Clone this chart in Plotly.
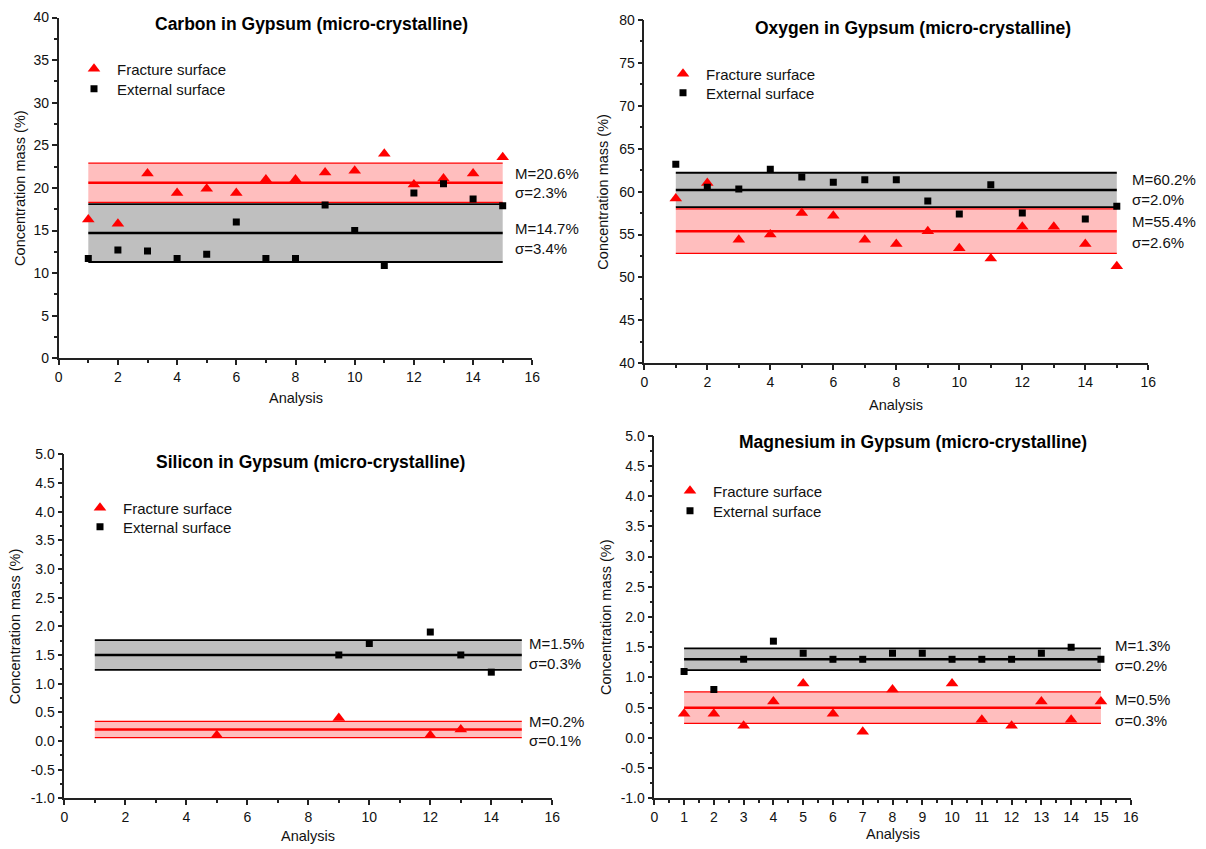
import plotly.graph_objects as go

W, H = 1206, 849
FONT = "Liberation Sans, Arial, sans-serif"

analysis = list(range(1, 16))

# Carbon
carbon_fracture = [16.3, 15.8, 21.7, 19.4, 19.9, 19.4, 21.0, 21.0, 21.8, 22.0, 24.0, 20.4, 21.1, 21.7, 23.6]
carbon_external = [11.7, 12.7, 12.6, 11.7, 12.2, 16.0, 11.7, 11.7, 18.0, 15.0, 10.9, 19.4, 20.5, 18.7, 17.9]
carbon_mean = {"fracture": 20.6, "external": 14.7}
carbon_sd = {"fracture": 2.3, "external": 3.4}

# Oxygen
oxygen_fracture = [59.2, 61.0, 54.4, 55.0, 57.5, 57.2, 54.4, 53.9, 55.4, 53.4, 52.2, 55.9, 55.9, 53.9, 51.3]
oxygen_external = [63.2, 60.5, 60.3, 62.6, 61.7, 61.1, 61.4, 61.4, 58.9, 57.4, 60.8, 57.5, None, 56.8, 58.3]
oxygen_mean = {"fracture": 55.4, "external": 60.2}
oxygen_sd = {"fracture": 2.6, "external": 2.0}

# Silicon
silicon_fracture = [None, None, None, None, 0.1, None, None, None, 0.4, None, None, 0.1, 0.2, None, None]
silicon_external = [None, None, None, None, None, None, None, None, 1.5, 1.7, None, 1.9, 1.5, 1.2, None]
silicon_mean = {"fracture": 0.2, "external": 1.5}
silicon_sd = {"fracture": 0.14, "external": 0.26}

# Magnesium
magnesium_fracture = [0.4, 0.4, 0.2, 0.6, 0.9, 0.4, 0.1, 0.8, None, 0.9, 0.3, 0.2, 0.6, 0.3, 0.6]
magnesium_external = [1.1, 0.8, 1.3, 1.6, 1.4, 1.3, 1.3, 1.4, 1.4, 1.3, 1.3, 1.3, 1.4, 1.5, 1.3]
magnesium_mean = {"fracture": 0.5, "external": 1.3}
magnesium_sd = {"fracture": 0.26, "external": 0.18}

label_M = {
    "carbon": {"fracture": "M=20.6%", "external": "M=14.7%"},
    "oxygen": {"fracture": "M=55.4%", "external": "M=60.2%"},
    "silicon": {"fracture": "M=0.2%", "external": "M=1.5%"},
    "magnesium": {"fracture": "M=0.5%", "external": "M=1.3%"},
}
label_S = {
    "carbon": {"fracture": "σ=2.3%", "external": "σ=3.4%"},
    "oxygen": {"fracture": "σ=2.6%", "external": "σ=2.0%"},
    "silicon": {"fracture": "σ=0.1%", "external": "σ=0.3%"},
    "magnesium": {"fracture": "σ=0.3%", "external": "σ=0.2%"},
}

titles = {
    "carbon": "Carbon in Gypsum (micro-crystalline)",
    "oxygen": "Oxygen in Gypsum (micro-crystalline)",
    "silicon": "Silicon in Gypsum (micro-crystalline)",
    "magnesium": "Magnesium in Gypsum (micro-crystalline)",
}

# pixel offsets (M label, sigma label) relative to the mean line
label_shift = {
    "carbon": {"fracture": (9.6, -10), "external": (5, -15)},
    "oxygen": {"fracture": (9.6, -11.4), "external": (10, -10)},
    "silicon": {"fracture": (8, -11), "external": (11.5, -8.5)},
    "magnesium": {"fracture": (8, -12.5), "external": (14, -6.5)},
}

panels = [
    dict(key="carbon", frac=carbon_fracture, ext=carbon_external, mean=carbon_mean, sd=carbon_sd,
         px=(58.7, 532.3), py=(17.5, 358.3), yr=(0, 40), ydt=5, yminor=2.5, xdt=2, xminor=1,
         yfmt=None, title_xy=(311, 24), leg=(94, 69, 89), lab_dx=10, ytitle_x=20, xtitle_y=398),
    dict(key="oxygen", frac=oxygen_fracture, ext=oxygen_external, mean=oxygen_mean, sd=oxygen_sd,
         px=(644.3, 1148.3), py=(20, 363.3), yr=(40, 80), ydt=5, yminor=2.5, xdt=2, xminor=1,
         yfmt=None, title_xy=(913, 28), leg=(683, 74, 93), lab_dx=13, ytitle_x=603, xtitle_y=405),
    dict(key="silicon", frac=silicon_fracture, ext=silicon_external, mean=silicon_mean, sd=silicon_sd,
         px=(64.3, 552.3), py=(454.3, 798.3), yr=(-1, 5), ydt=0.5, yminor=0.25, xdt=2, xminor=1,
         yfmt="1f", title_xy=(310, 462), leg=(100, 508, 527), lab_dx=5, ytitle_x=15, xtitle_y=836),
    dict(key="magnesium", frac=magnesium_fracture, ext=magnesium_external, mean=magnesium_mean, sd=magnesium_sd,
         px=(654.3, 1130.7), py=(435.7, 798.3), yr=(-1, 5), ydt=0.5, yminor=0.25, xdt=1, xminor=0.5,
         yfmt="1f", title_xy=(913, 442), leg=(690, 491, 511), lab_dx=12, ytitle_x=606, xtitle_y=834),
]

RED = "#ff0000"
PINK = "rgba(255,190,190,1)"
GRAYF = "rgba(191,191,191,1)"

fig = go.Figure()
annotations = []
layout = dict(width=W, height=H, margin=dict(l=0, r=0, t=0, b=0),
              paper_bgcolor="white", plot_bgcolor="white", font=dict(family=FONT, color="#111"))


def fmt_tick(v, fmt):
    if fmt:
        s = f"{v:.1f}"
    else:
        s = f"{v:g}"
    return s.replace("\u2212", "-")


leg_count = 0
for i, p in enumerate(panels):
    n = i + 1
    xa = "x" if n == 1 else f"x{n}"
    ya = "y" if n == 1 else f"y{n}"
    xk = "xaxis" if n == 1 else f"xaxis{n}"
    yk = "yaxis" if n == 1 else f"yaxis{n}"
    key = p["key"]

    for series, line_c, fill_c, mean_w, edge_w in [("external", "#000000", GRAYF, 2.5, 1.8),
                                                     ("fracture", RED, PINK, 2.5, 1.3)]:
        m = p["mean"][series]
        s = p["sd"][series]
        xs = [analysis[0], analysis[-1]]
        fig.add_trace(go.Scatter(x=xs, y=[m - s, m - s], mode="lines", line=dict(color=line_c, width=edge_w),
                                 xaxis=xa, yaxis=ya, showlegend=False, hoverinfo="skip"))
        fig.add_trace(go.Scatter(x=xs, y=[m + s, m + s], mode="lines", line=dict(color=line_c, width=edge_w),
                                 fill="tonexty", fillcolor=fill_c,
                                 xaxis=xa, yaxis=ya, showlegend=False, hoverinfo="skip"))
        fig.add_trace(go.Scatter(x=xs, y=[m, m], mode="lines", line=dict(color=line_c, width=mean_w),
                                 xaxis=xa, yaxis=ya, showlegend=False, hoverinfo="skip"))
        sm, ss = label_shift[key][series]
        annotations.append(dict(x=analysis[-1], y=m, xref=xa, yref=ya, text=label_M[key][series],
                                showarrow=False, xanchor="left", yanchor="middle", xshift=p["lab_dx"], yshift=sm,
                                font=dict(size=15, family=FONT, color="#111")))
        annotations.append(dict(x=analysis[-1], y=m, xref=xa, yref=ya, text=label_S[key][series],
                                showarrow=False, xanchor="left", yanchor="middle", xshift=p["lab_dx"], yshift=ss,
                                font=dict(size=15, family=FONT, color="#111")))

    sym_x, fy, ey = p["leg"]
    for name, vals, marker, item_y in [
        ("Fracture surface", p["frac"], dict(symbol="triangle-up", size=11, color=RED), fy),
        ("External surface", p["ext"], dict(symbol="square", size=7, color="#000000"), ey),
    ]:
        leg_count += 1
        lk = "legend" if leg_count == 1 else f"legend{leg_count}"
        fig.add_trace(go.Scatter(x=analysis, y=vals, mode="markers", name=name, marker=marker,
                                 xaxis=xa, yaxis=ya, legend=lk))
        layout[lk] = dict(x=(sym_x - 23) / W, y=1 - (item_y - 16.5) / H, xanchor="left", yanchor="top",
                          bgcolor="rgba(0,0,0,0)", borderwidth=0, itemwidth=36, traceorder="normal",
                          font=dict(size=15, family=FONT, color="#111"))

    x0, x1 = p["px"]
    yt, yb = p["py"]
    y0r, y1r = p["yr"]
    nt = int(round((y1r - y0r) / p["ydt"]))
    yvals = [y0r + k * p["ydt"] for k in range(nt + 1)]
    layout[xk] = dict(domain=[x0 / W, x1 / W], range=[0, 16], anchor=ya, showgrid=False, zeroline=False,
                      automargin=False,
                      showline=True, linecolor="#222", linewidth=1.5, ticks="outside", ticklen=5,
                      tickwidth=1.5, tickcolor="#222", dtick=p["xdt"], tick0=0,
                      minor=dict(ticks="outside", ticklen=3, tickwidth=1.5, tickcolor="#222", dtick=p["xminor"]),
                      tickfont=dict(size=14, family=FONT, color="#111"), fixedrange=True)
    layout[yk] = dict(domain=[1 - yb / H, 1 - yt / H], range=[y0r, y1r], anchor=xa, showgrid=False,
                      zeroline=False, showline=True, linecolor="#222", linewidth=1.5, ticks="outside",
                      automargin=False,
                      ticklen=5, tickwidth=1.5, tickcolor="#222",
                      tickmode="array", tickvals=yvals, ticktext=[fmt_tick(v, p["yfmt"]) for v in yvals],
                      minor=dict(ticks="outside", ticklen=3, tickwidth=1.5, tickcolor="#222",
                                 tickmode="linear", tick0=y0r, dtick=p["yminor"]),
                      tickfont=dict(size=14, family=FONT, color="#111"), fixedrange=True)

    tx, ty = p["title_xy"]
    annotations.append(dict(x=tx / W, y=1 - ty / H, xref="paper", yref="paper", text=f"<b>{titles[key]}</b>",
                            showarrow=False, xanchor="center", yanchor="middle",
                            font=dict(size=17.5, family=FONT, color="#000")))
    annotations.append(dict(x=p["ytitle_x"] / W, y=1 - (yt + yb) / 2 / H, xref="paper", yref="paper",
                            text="Concentration mass (%)", textangle=-90, showarrow=False,
                            xanchor="center", yanchor="middle", font=dict(size=14.5, family=FONT, color="#111")))
    annotations.append(dict(x=(x0 + x1) / 2 / W, y=1 - p["xtitle_y"] / H, xref="paper", yref="paper",
                            text="Analysis", showarrow=False, xanchor="center", yanchor="middle",
                            font=dict(size=14.5, family=FONT, color="#111")))

layout["annotations"] = annotations
fig.update_layout(**layout)
fig.write_html("out.html")
